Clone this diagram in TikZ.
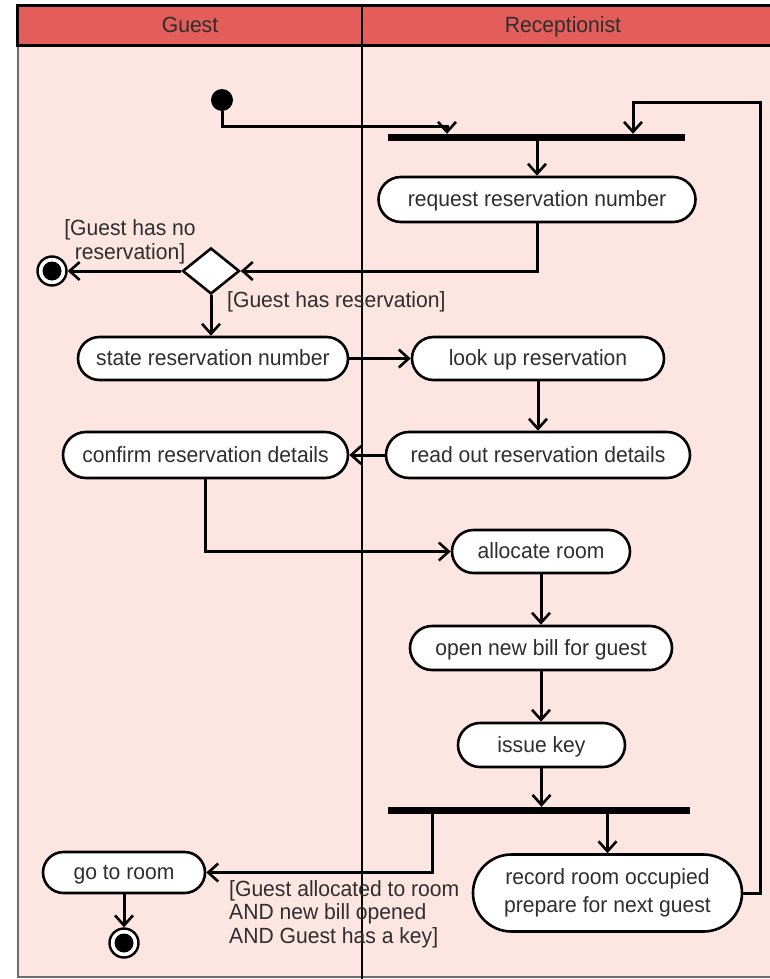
\documentclass[tikz,border=0pt]{standalone}
\usepackage{fontspec}
\setmainfont{Liberation Sans}[FakeStretch=0.96]
\usetikzlibrary{arrows.meta,shapes.misc,shapes.geometric}
\definecolor{lanehead}{HTML}{E35D5B}
\definecolor{lanebody}{HTML}{FDE5E2}
\definecolor{ink}{HTML}{2E2E2E}
\begin{document}
\begin{tikzpicture}[x=1pt,y=-1pt,
  every node/.style={font=\fontsize{22}{23.5}\selectfont, text=ink},
  act/.style={draw=black, line width=2.6pt, fill=white, rounded rectangle, inner sep=0pt, align=center},
  oneline/.style={text height=19, text depth=5},
  bar/.style={fill=black, inner sep=0pt, minimum height=7},
  decision/.style={draw=black, line width=2.6pt, fill=white, diamond, inner sep=0pt, minimum width=57, minimum height=46},
  startnode/.style={circle, fill=black, inner sep=0pt, minimum size=22},
  endnode/.style={circle, draw=black, line width=2.4pt, fill=white, inner sep=0pt, minimum size=29,
    path picture={\fill[black] (path picture bounding box.center) circle (9.5);}},
  guard/.style={inner sep=0pt},
  flow/.style={line width=3pt, -{Straight Barb[length=10pt,width=18pt,line width=2.6pt]}},
]
\useasboundingbox (0,0) rectangle (769,979);

% swimlane frame
\fill[lanebody] (18,46) rectangle (772,977);
\draw[ink!70, line width=1.6pt] (18,46) -- (18,977) -- (772,977);
\draw[fill=lanehead, line width=3pt] (17,6) rectangle (772,46);
\draw[line width=2.8pt] (362,6) -- (362,979);
\node[oneline] (hguest) at (190,26) {Guest};
\node[oneline] (hrecep) at (563,26) {Receptionist};

% nodes
\node[startnode] (init) at (222,100) {};
\node[bar, minimum width=297] (bar1) at (536.5,137.5) {};
\node[act, oneline, minimum width=317, minimum height=45] (req) at (537,199.5) {request reservation number};
\node[decision] (dec) at (211,271) {};
\node[endnode] (fin1) at (52,271) {};
\node[act, oneline, minimum width=270, minimum height=43] (state) at (213,358.5) {state reservation number};
\node[act, oneline, minimum width=252, minimum height=43] (look) at (538,358.5) {look up reservation};
\node[act, oneline, minimum width=304, minimum height=46] (read) at (538,455) {read out reservation details};
\node[act, oneline, minimum width=285, minimum height=46] (confirm) at (205.5,455) {confirm reservation details};
\node[act, oneline, minimum width=178, minimum height=43] (alloc) at (541,551.5) {allocate room};
\node[act, oneline, minimum width=262, minimum height=44] (bill) at (541,648) {open new bill for guest};
\node[act, oneline, minimum width=167, minimum height=44] (key) at (541.5,745) {issue key};
\node[bar, minimum width=302] (bar2) at (539,810.5) {};
\node[act, minimum width=269, minimum height=77] (record) at (607.5,893) {record room occupied\\[4pt]prepare for next guest};
\node[act, oneline, minimum width=162, minimum height=41] (goto) at (124,872.5) {go to room};
\node[endnode] (fin2) at (124,943) {};

% guards
\node[guard, align=center] (gno) at (130,242) {[Guest has no\\reservation]};
\node[guard, anchor=west] (gyes) at (227,302) {[Guest has reservation]};
\node[guard, anchor=north west, align=left] (gall) at (229,880)
  {[Guest allocated to room\\AND new bill opened\\AND Guest has a key]};

% routing points
\coordinate (j1) at (447,127);
\coordinate (loopR) at (760,103);
\coordinate (j3) at (633,103);
\coordinate (j2) at (432,811);

% flows
\draw[flow] (init) |- (j1) -- (j1 |- bar1.north);
\draw[flow] (record.east) -| (loopR) -- (j3) -- (j3 |- bar1.north);
\draw[flow] (bar1.south -| req.north) -- (req.north);
\draw[flow] (req.south) |- (dec.east);
\draw[flow] (dec.west) -- (fin1.east);
\draw[flow] (dec.south) -- (dec.south |- state.north);
\draw[flow] (state.east) -- (look.west);
\draw[flow] (look.south) -- (look.south |- read.north);
\draw[flow] (read.west) -- (confirm.east);
\draw[flow] (confirm.south) |- (alloc.west);
\draw[flow] (alloc.south) -- (alloc.south |- bill.north);
\draw[flow] (bill.south) -- (bill.south |- key.north);
\draw[flow] (key.south) -- (key.south |- bar2.north);
\draw[flow] (bar2.south -| record.north) -- (record.north);
\draw[flow] (j2 |- bar2.south) |- (goto.east);
\draw[flow] (goto.south) -- (fin2.north);
\end{tikzpicture}
\end{document}
